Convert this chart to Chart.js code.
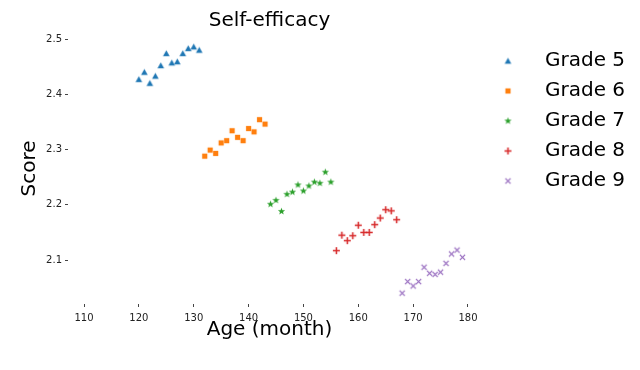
<!DOCTYPE html>
<html>
<head>
<meta charset="utf-8">
<script src="https://cdn.jsdelivr.net/npm/chart.js@4.4.1/dist/chart.umd.min.js"></script>
<style>
  html, body { margin: 0; padding: 0; background: #fff; }
  #wrap { width: 640px; height: 370px; }
</style>
</head>
<body>
<div id="wrap"><canvas id="scoreChart" width="640" height="370"></canvas></div>
<script>
// Datos
const gradeLabels = ['Grade 5', 'Grade 6', 'Grade 7', 'Grade 8', 'Grade 9'];

const monthsG5 = [120, 121, 122, 123, 124, 125, 126, 127, 128, 129, 130, 131];
const scoresG5 = [2.427, 2.440, 2.420, 2.433, 2.452, 2.474, 2.457, 2.459, 2.474, 2.483, 2.486, 2.480];

const monthsG6 = [132, 133, 134, 135, 136, 137, 138, 139, 140, 141, 142, 143];
const scoresG6 = [2.288, 2.299, 2.293, 2.312, 2.316, 2.334, 2.322, 2.316, 2.338, 2.332, 2.354, 2.346];

const monthsG7 = [144, 145, 146, 147, 148, 149, 150, 151, 152, 153, 154, 155];
const scoresG7 = [2.201, 2.208, 2.188, 2.219, 2.223, 2.236, 2.225, 2.234, 2.241, 2.239, 2.259, 2.241];

const monthsG8 = [156, 157, 158, 159, 160, 161, 162, 163, 164, 165, 166, 167];
const scoresG8 = [2.117, 2.145, 2.135, 2.144, 2.163, 2.150, 2.150, 2.164, 2.176, 2.191, 2.189, 2.173];

const monthsG9 = [168, 169, 170, 171, 172, 173, 174, 175, 176, 177, 178, 179];
const scoresG9 = [2.040, 2.061, 2.053, 2.061, 2.087, 2.076, 2.074, 2.078, 2.094, 2.111, 2.118, 2.105];

const xTicks = [110, 120, 130, 140, 150, 160, 170, 180];
const yTicks = [2.1, 2.2, 2.3, 2.4, 2.5];

const colors = ['#1f77b4', '#ff7f0e', '#2ca02c', '#d62728', '#9467bd'];
const FONT = "'DejaVu Sans', sans-serif";

// Marcadores estilo matplotlib dibujados en pequeños canvas
function makeMarker(kind, color) {
    const c = document.createElement('canvas');
    c.width = 9;
    c.height = 9;
    const g = c.getContext('2d');
    g.fillStyle = color;
    g.strokeStyle = color;
    const m = 4.5;
    if (kind === 'tri') {
        g.beginPath();
        g.moveTo(m, 1.2);
        g.lineTo(m + 3.3, 7.2);
        g.lineTo(m - 3.3, 7.2);
        g.closePath();
        g.fill();
    } else if (kind === 'square') {
        g.fillRect(m - 2.6, m - 2.6, 5.2, 5.2);
    } else if (kind === 'star') {
        g.beginPath();
        for (let i = 0; i < 10; i++) {
            const r = i % 2 === 0 ? 3.8 : 1.6;
            const a = -Math.PI / 2 + i * Math.PI / 5;
            const px = m + r * Math.cos(a);
            const py = m + r * Math.sin(a);
            if (i === 0) g.moveTo(px, py); else g.lineTo(px, py);
        }
        g.closePath();
        g.fill();
    } else if (kind === 'plus') {
        g.lineWidth = 1.5;
        g.beginPath();
        g.moveTo(m - 3.5, m); g.lineTo(m + 3.5, m);
        g.moveTo(m, m - 3.5); g.lineTo(m, m + 3.5);
        g.stroke();
    } else if (kind === 'x') {
        g.lineWidth = 1.2;
        g.beginPath();
        g.moveTo(m - 2.6, m - 2.6); g.lineTo(m + 2.6, m + 2.6);
        g.moveTo(m + 2.6, m - 2.6); g.lineTo(m - 2.6, m + 2.6);
        g.stroke();
    }
    return c;
}

const markerKinds = ['tri', 'square', 'star', 'plus', 'x'];
const monthsAll = [monthsG5, monthsG6, monthsG7, monthsG8, monthsG9];
const scoresAll = [scoresG5, scoresG6, scoresG7, scoresG8, scoresG9];

const datasets = gradeLabels.map((label, i) => {
    const marker = makeMarker(markerKinds[i], colors[i]);
    return {
        label: label,
        data: monthsAll[i].map((m, j) => ({ x: m, y: scoresAll[i][j] })),
        pointStyle: marker,
        backgroundColor: colors[i],
        borderColor: colors[i],
        showLine: false
    };
});

// La leyenda recorta a su caja: se ensancha hasta el borde para que no corte el texto
const legendRoom = {
    id: 'legendRoom',
    afterLayout(chart) {
        if (chart.legend) {
            chart.legend.right = chart.width;
            chart.legend.width = chart.legend.right - chart.legend.left;
        }
    }
};

const ctx = document.getElementById('scoreChart').getContext('2d');

new Chart(ctx, {
    type: 'scatter',
    data: { datasets: datasets },
    plugins: [legendRoom],
    options: {
        responsive: false,
        animation: false,
        layout: { padding: { left: 18, right: 18, top: 0, bottom: 28 } },
        scales: {
            x: {
                type: 'linear',
                min: 107.08,
                max: 180.55,
                afterBuildTicks: (scale) => { scale.ticks = xTicks.map(v => ({ value: v })); },
                afterFit: (scale) => { scale.height = 38; },
                border: { display: false },
                grid: { display: true, drawOnChartArea: false, drawTicks: true, tickLength: 3, tickColor: '#444' },
                ticks: { color: '#222', padding: 5, font: { family: FONT, size: 10 } },
                title: { display: true, text: 'Age (month)', color: '#000', padding: 0, font: { family: FONT, size: 20 } }
            },
            y: {
                type: 'linear',
                min: 2.0204,
                max: 2.5109,
                afterBuildTicks: (scale) => { scale.ticks = yTicks.map(v => ({ value: v })); },
                afterFit: (scale) => { scale.width = 50; },
                border: { display: false },
                grid: { display: true, drawOnChartArea: false, drawTicks: true, tickLength: 3, tickColor: '#444' },
                ticks: { color: '#222', padding: 3, font: { family: FONT, size: 10 }, callback: (v) => v.toFixed(1) },
                title: { display: true, text: 'Score', color: '#000', padding: 0, font: { family: FONT, size: 20 } }
            }
        },
        plugins: {
            title: {
                display: true,
                text: 'Self-efficacy',
                fullSize: false,
                color: '#000',
                padding: { top: 9, bottom: 0 },
                font: { family: FONT, size: 20, weight: 'normal' }
            },
            legend: {
                position: 'right',
                align: 'start',
                fullSize: false,
                title: { display: true, text: ' ', padding: 0, font: { size: 8, lineHeight: 1 } },
                labels: {
                    usePointStyle: true,
                    pointStyleWidth: 54,
                    padding: 10,
                    color: '#000',
                    font: { family: FONT, size: 20 }
                }
            },
            tooltip: { enabled: false }
        }
    }
});
</script>
</body>
</html>
